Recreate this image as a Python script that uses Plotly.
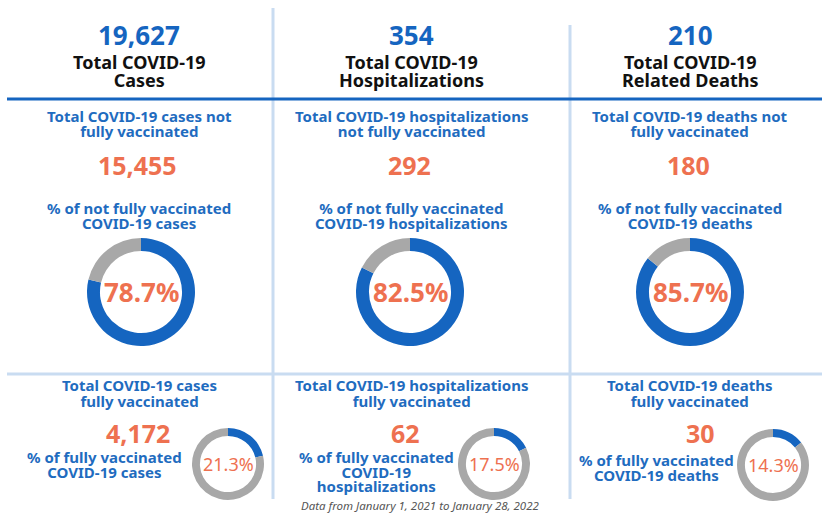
import plotly.graph_objects as go

# ---- data ----
categories = ["Cases", "Hospitalizations", "Related Deaths"]
totals = [19627, 354, 210]
header_labels = [["Total COVID-19", "Cases"], ["Total COVID-19", "Hospitalizations"],
                 ["Total COVID-19", "Related Deaths"]]
not_vax_titles = [["Total COVID-19 cases not", "fully vaccinated"],
                  ["Total COVID-19 hospitalizations", "not fully vaccinated"],
                  ["Total COVID-19 deaths not", "fully vaccinated"]]
not_vax_counts = [15455, 292, 180]
not_vax_pct_labels = [["% of not fully vaccinated", "COVID-19 cases"],
                      ["% of not fully vaccinated", "COVID-19 hospitalizations"],
                      ["% of not fully vaccinated", "COVID-19 deaths"]]
not_vax_pct = [78.7, 82.5, 85.7]
vax_titles = [["Total COVID-19 cases", "fully vaccinated"],
              ["Total COVID-19 hospitalizations", "fully vaccinated"],
              ["Total COVID-19 deaths", "fully vaccinated"]]
vax_counts = [4172, 62, 30]
vax_pct_labels = [["% of fully vaccinated", "COVID-19 cases"],
                  ["% of fully vaccinated", "COVID-19", "hospitalizations"],
                  ["% of fully vaccinated", "COVID-19 deaths"]]
vax_pct = [21.3, 17.5, 14.3]
footnote = "Data from January 1, 2021 to January 28, 2022"

# ---- style / layout ----
W, H = 822, 513
FONT = "Noto Sans"
BLUE = "#1565c0"
TXT_BLUE = "#1f6cbf"
ORANGE = "#ee7150"
GRAY = "#a8a8a8"
LIGHT = "#c9dcf1"

col_x = [139, 411, 690]
big_donut_x = [141, 410, 690]
big_donut_y = 292
big_r = 54
small_donut = [(228, 464), (494, 464), (773, 465)]
small_r = 36
vax_count_x = [138, 405, 700]
vax_label_x = [104, 376, 656]
vax_label_y0 = [457, 457, 460]


def px(x):
    return x / W


def py(y):
    return 1 - y / H


fig = go.Figure()

for i in range(3):
    cx = big_donut_x[i]
    fig.add_trace(go.Pie(
        values=[not_vax_pct[i], 100 - not_vax_pct[i]],
        labels=["Not fully vaccinated", "Other"],
        marker=dict(colors=[BLUE, GRAY], line=dict(width=0)),
        hole=0.76, sort=False, direction="clockwise", rotation=0,
        textinfo="none", hoverinfo="label+value", showlegend=False,
        domain=dict(x=[px(cx - big_r), px(cx + big_r)],
                    y=[py(big_donut_y + big_r), py(big_donut_y - big_r)]),
    ))
    sx, sy = small_donut[i]
    fig.add_trace(go.Pie(
        values=[vax_pct[i], 100 - vax_pct[i]],
        labels=["Fully vaccinated", "Other"],
        marker=dict(colors=[BLUE, GRAY], line=dict(width=0)),
        hole=0.78, sort=False, direction="clockwise", rotation=0,
        textinfo="none", hoverinfo="label+value", showlegend=False,
        domain=dict(x=[px(sx - small_r), px(sx + small_r)],
                    y=[py(sy + small_r), py(sy - small_r)]),
    ))

ann = []


def add_text(x, y, text, size, color, bold=True, italic=False):
    t = text
    if bold:
        t = "<b>" + t + "</b>"
    if italic:
        t = "<i>" + t + "</i>"
    ann.append(dict(x=px(x), y=py(y), xref="paper", yref="paper", text=t,
                    showarrow=False, xanchor="center", yanchor="middle",
                    font=dict(family=FONT, size=size, color=color)))


def add_lines(x, y0, lines, step, size, color):
    # one text block; base font sets the (tight) line spacing, span sets glyph size
    base = step / 1.3
    body = "<br>".join(f"<span style='font-size:{size}px'><b>{ln}</b></span>" for ln in lines)
    yc = y0 + step * (len(lines) - 1) / 2
    ann.append(dict(x=px(x), y=py(yc), xref="paper", yref="paper", text=body,
                    showarrow=False, xanchor="center", yanchor="middle",
                    font=dict(family=FONT, size=base, color=color)))


for i in range(3):
    cx = col_x[i]
    add_text(cx, 35, f"{totals[i]:,}", 26, BLUE)
    add_lines(cx, 62, header_labels[i], 18, 18, "#111111")
    add_lines(cx, 116, not_vax_titles[i], 15, 15, TXT_BLUE)
    add_text(cx - 2, 165, f"{not_vax_counts[i]:,}", 25, ORANGE)
    add_lines(cx, 208, not_vax_pct_labels[i], 15, 15, TXT_BLUE)
    add_text(big_donut_x[i], big_donut_y, f"{not_vax_pct[i]}%", 26, ORANGE)
    add_lines(cx, 385, vax_titles[i], 16, 15, TXT_BLUE)
    add_text(vax_count_x[i], 433, f"{vax_counts[i]:,}", 25, ORANGE)
    add_lines(vax_label_x[i], vax_label_y0[i], vax_pct_labels[i], 14.5, 15, TXT_BLUE)
    sx, sy = small_donut[i]
    add_text(sx, sy, f"{vax_pct[i]}%", 18, ORANGE, bold=False)

add_text(420, 505, footnote, 11.5, "#555555", bold=False, italic=True)

shapes = [
    dict(type="line", xref="paper", yref="paper", x0=px(273), x1=px(273), y0=py(8), y1=py(499),
         line=dict(color=LIGHT, width=3)),
    dict(type="line", xref="paper", yref="paper", x0=px(570), x1=px(570), y0=py(25), y1=py(499),
         line=dict(color=LIGHT, width=3)),
    dict(type="line", xref="paper", yref="paper", x0=px(7), x1=px(822), y0=py(374), y1=py(374),
         line=dict(color=LIGHT, width=3)),
    dict(type="line", xref="paper", yref="paper", x0=px(7), x1=px(822), y0=py(99), y1=py(99),
         line=dict(color=BLUE, width=3)),
]

fig.update_layout(
    width=W, height=H, margin=dict(l=0, r=0, t=0, b=0),
    paper_bgcolor="white", plot_bgcolor="white",
    annotations=ann, shapes=shapes,
    font=dict(family=FONT),
)

fig.write_html("out.html", config={"displayModeBar": False},
               post_script="document.body.style.margin='0';document.body.style.padding='0';"
                           "document.documentElement.style.overflow='hidden';")
